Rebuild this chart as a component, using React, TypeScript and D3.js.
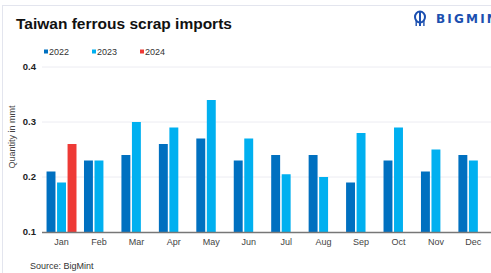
import React from "react";
import * as d3 from "d3";

const months = ["Jan", "Feb", "Mar", "Apr", "May", "Jun", "Jul", "Aug", "Sep", "Oct", "Nov", "Dec"];
const seriesNames = ["2022", "2023", "2024"];
const values2022 = [0.21, 0.23, 0.24, 0.26, 0.27, 0.23, 0.24, 0.24, 0.19, 0.23, 0.21, 0.24];
const values2023 = [0.19, 0.23, 0.3, 0.29, 0.34, 0.27, 0.205, 0.2, 0.28, 0.29, 0.25, 0.23];
const values2024 = [0.26];
const yTicks = [0.1, 0.2, 0.3, 0.4];

const colors = ["#0070c0", "#00b0f0", "#ee3a36"];
const font = "Liberation Sans, Arial, sans-serif";

const W = 491;
const H = 273;

export default function App() {
  const x = d3.scaleBand<string>().domain(months).range([42.8, 492.1]).paddingInner(0.2).paddingOuter(0.1);
  const xInner = d3.scaleBand<string>().domain(seriesNames).range([0, x.bandwidth()]).paddingInner(0.15);
  const y = d3.scaleLinear().domain([0.1, 0.4]).range([232, 67]);

  const allSeries = [values2022, values2023, values2024];
  const bars: { m: string; s: string; v: number; c: string }[] = [];
  allSeries.forEach((vals, si) => {
    vals.forEach((v, i) => bars.push({ m: months[i], s: seriesNames[si], v, c: colors[si] }));
  });

  const legendX = [44, 92, 140];

  return (
    <svg width={W} height={H} style={{ position: "fixed", left: 0, top: 0, background: "#fff" }} fontFamily={font}>
      <rect x={2.5} y={5.5} width={W} height={H} fill="#fff" stroke="#e3e5ee" strokeWidth={1} />

      <text x={16} y={29} fontSize={15.5} fontWeight="bold" fill="#111">
        Taiwan ferrous scrap imports
      </text>

      {/* logo */}
      <g fill="#1b4fb0">
        <ellipse cx={420} cy={17} rx={5} ry={5.5} fill="none" stroke="#1b4fb0" strokeWidth={2} />
        <rect x={419} y={11} width={2} height={15} />
        <rect x={415.5} y={20} width={1.4} height={6} />
        <rect x={423.2} y={20} width={1.4} height={6} />
        <text x={436} y={22.5} fontSize={12} fontWeight="bold" letterSpacing={2.2} fontFamily="DejaVu Sans, sans-serif">
          BIGMINT
        </text>
      </g>

      {/* legend */}
      {seriesNames.map((s, i) => (
        <g key={s}>
          <rect x={legendX[i]} y={49.5} width={4} height={4} fill={colors[i]} />
          <text x={legendX[i] + 5} y={54.5} fontSize={9} fill="#333">
            {s}
          </text>
        </g>
      ))}

      {/* grid + y ticks */}
      {yTicks.map((t) => (
        <g key={t}>
          {t > 0.1 && <line x1={42} x2={W} y1={y(t)} y2={y(t)} stroke="#ececf2" strokeWidth={1} />}
          <text x={36} y={y(t) + 3.3} textAnchor="end" fontSize={9.5} fontWeight="bold" fill="#222">
            {t.toFixed(1)}
          </text>
        </g>
      ))}

      <text transform={`translate(14.5,137) rotate(-90)`} textAnchor="middle" fontSize={9} fill="#444">
        Quantity in mmt
      </text>

      {/* bars */}
      {bars.map((b) => (
        <rect
          key={b.m + b.s}
          x={(x(b.m) as number) + (xInner(b.s) as number)}
          y={y(b.v)}
          width={xInner.bandwidth()}
          height={y(0.1) - y(b.v)}
          fill={b.c}
        />
      ))}

      <line x1={42} x2={W} y1={232.5} y2={232.5} stroke="#777" strokeWidth={1.5} />

      {months.map((m) => (
        <text key={m} x={(x(m) as number) + x.bandwidth() / 2} y={245} textAnchor="middle" fontSize={9} fill="#444">
          {m}
        </text>
      ))}

      <text x={30} y={269} fontSize={9} fill="#333">
        Source: BigMint
      </text>
    </svg>
  );
}
